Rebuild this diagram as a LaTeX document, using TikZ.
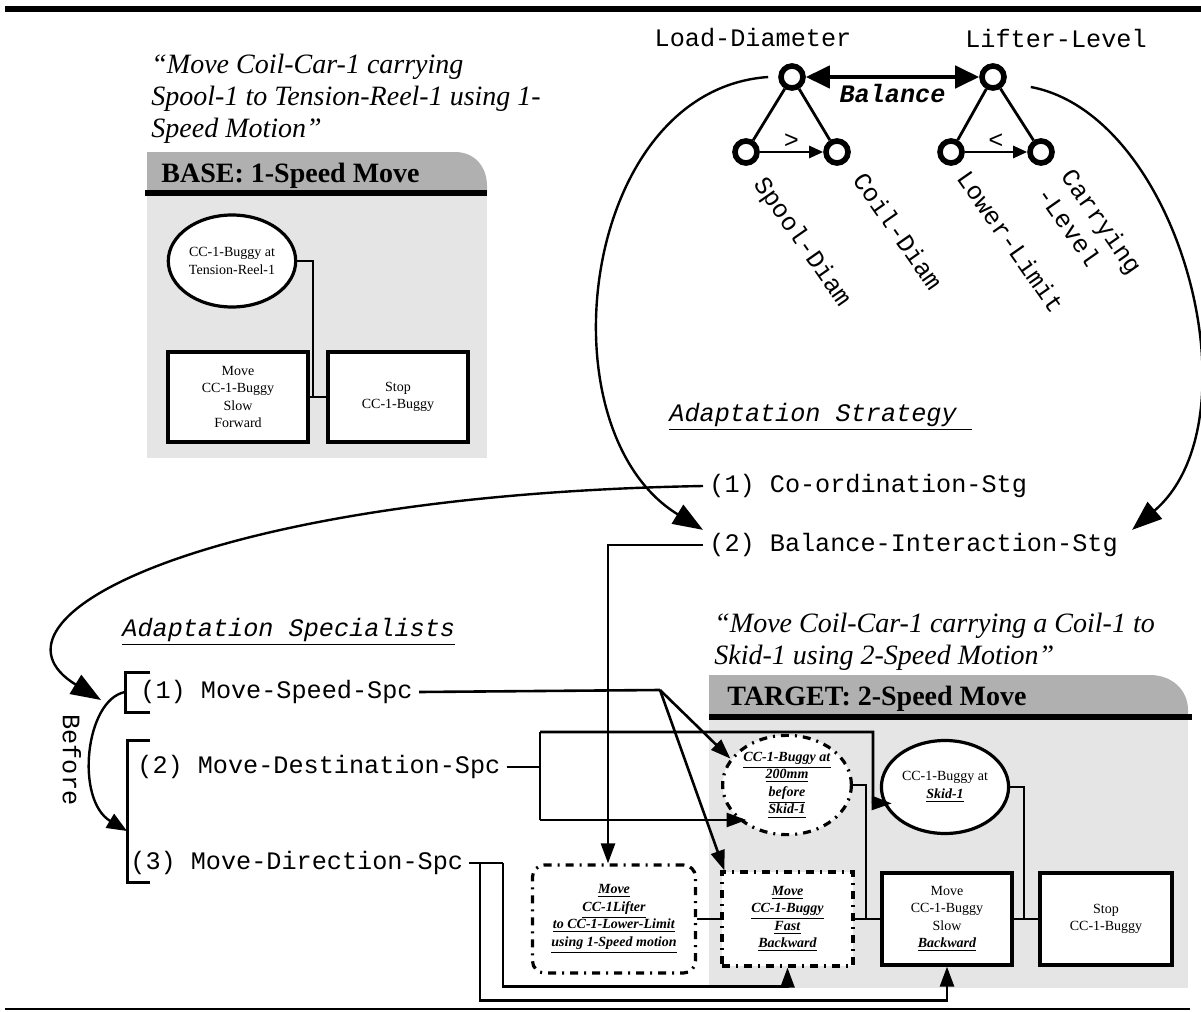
\documentclass[tikz,border=0pt]{standalone}
\usepackage{fontspec}
\setmainfont{Liberation Serif}
\setmonofont{Liberation Mono}
\usetikzlibrary{arrows.meta,shapes.geometric}
\definecolor{hdrgray}{RGB}{176,176,176}
\definecolor{bodygray}{RGB}{229,229,229}
\tikzset{
  conn/.style={line width=1.3pt},
  arr/.style={conn,-{Triangle[length=10pt,width=7pt]}},
  bigarr/.style={line width=1.2pt,-{Triangle[length=15pt,width=11pt]}},
  brk/.style={line width=1.5pt},
  rule/.style={line width=2.6pt},
  mono/.style={font=\ttfamily\fontsize{12.6}{15}\selectfont,inner xsep=3pt,inner ysep=1.5pt},
  itmono/.style={mono,font=\ttfamily\itshape\fontsize{12.6}{15}\selectfont},
  slant/.style={mono,rotate=-55,anchor=west,inner sep=0pt},
  quote/.style={font=\itshape\fontsize{14}{16}\selectfont,align=left,inner sep=0pt},
  hdr/.style={font=\bfseries\fontsize{14}{16}\selectfont,inner sep=0pt},
  knot/.style={circle,draw,line width=2.8pt,minimum size=11pt,inner sep=0pt},
  side/.style={line width=1.4pt},
  narr/.style={line width=1.3pt,-{Triangle[length=7pt,width=6pt]}},
  balarr/.style={line width=2.2pt,{Triangle[length=12pt,width=11pt]}-{Triangle[length=12pt,width=11pt]}},
  task/.style={draw,line width=1.6pt,fill=white,align=center,inner sep=1pt,font=\fontsize{7}{8.8}\selectfont},
  newtask/.style={task,dash pattern=on 4pt off 3pt on 1pt off 3pt},
  state/.style={task,ellipse},
  newstate/.style={state,dash pattern=on 4pt off 3pt on 1pt off 3pt}
}
\newcommand{\ubi}[1]{\underline{\textbf{\textit{#1}}}}

\begin{document}
\begin{tikzpicture}[x=0.5pt,y=-0.5pt]
\useasboundingbox (0,0) rectangle (1201,1012);
% page rules
\draw[line width=3pt] (5,9) -- (1201,9);
\draw[line width=1pt] (5,1009) -- (1190,1009);

% base case
\node[quote,anchor=north west] (basequote) at (151,54) {“Move Coil-Car-1 carrying\\Spool-1 to Tension-Reel-1 using 1-\\Speed Motion”};
\fill[bodygray] (147,193) rectangle (487,458);
\fill[hdrgray] (147,193) -- (147,152) -- (455,152) .. controls (474,152) and (487,166) .. (487,186) -- (487,193) -- cycle;
\draw[rule] (145,193) -- (487,193);
\node[hdr,anchor=west] (basehdr) at (161,176) {BASE: 1-Speed Move};
\node[state,minimum width=61.5pt,minimum height=46pt] (baseat) at (232,261) {CC-1-Buggy at\\Tension-Reel-1};
\node[task,minimum width=70pt,minimum height=45pt] (baseslow) at (238,397) {Move\\CC-1-Buggy\\Slow\\Forward};
\node[task,minimum width=70pt,minimum height=45pt] (basestop) at (398,397) {Stop\\CC-1-Buggy};
\coordinate (basej) at (313,397);
\draw[conn] (baseat.east) -| (basej);
\draw[conn] (baseslow.east) -- (basestop.west);

% balance of the two goals
\node[mono] (ldlab) at (753,38) {Load-Diameter};
\node[mono] (lllab) at (1056,38) {Lifter-Level};
\node[knot] (ld) at (792,77) {};
\node[knot] (ll) at (993,77) {};
\node[knot] (sd) at (746,152) {};
\node[knot] (cd) at (837,152) {};
\node[knot] (lo) at (951,152) {};
\node[knot] (cl) at (1041,152) {};
\draw[side] (ld) -- (sd); \draw[side] (ld) -- (cd);
\draw[side] (ll) -- (lo); \draw[side] (ll) -- (cl);
\draw[narr] (sd) -- node[mono,above,inner sep=1pt] {>} (cd);
\draw[narr] (lo) -- node[mono,above,inner sep=1pt] {<} (cl);
\draw[balarr] (ld) -- node[mono,below=1pt,font=\ttfamily\bfseries\itshape\fontsize{12.6}{15}\selectfont] {Balance} (ll);
\node[slant] (sdlab) at (758,180) {Spool-Diam};
\node[slant] (cdlab) at (859,175) {Coil-Diam};
\node[slant] (lolab) at (963,173) {Lower-Limit};
\node[slant,align=left] (cllab) at (1055,180) {Carrying\\-Level};

% adaptation strategy
\node[itmono,anchor=west] (stglab) at (663,417) {\underline{Adaptation Strategy\ }};
\node[mono,anchor=west] (stg1) at (703,486) {(1) Co-ordination-Stg};
\node[mono,anchor=west] (stg2) at (703,545) {(2) Balance-Interaction-Stg};
\draw[bigarr] ([xshift=-5pt]ld.west) .. controls (580,90) and (540,430) .. (stg2.north west);
\draw[bigarr] ([xshift=12pt,yshift=-5pt]ll.east) .. controls (1180,115) and (1260,420) .. ([xshift=4pt]stg2.north east);

% target case
\node[quote,anchor=north west] (targetquote) at (714,613) {“Move Coil-Car-1 carrying a Coil-1 to\\Skid-1 using 2-Speed Motion”};
\fill[bodygray] (709,717) rectangle (1188,988);
\fill[hdrgray] (709,717) -- (709,675) -- (1150,675) .. controls (1172,675) and (1188,690) .. (1188,710) -- (1188,717) -- cycle;
\draw[rule] (709,717) -- (1192,717);
\node[hdr,anchor=west] (targethdr) at (727,699) {TARGET: 2-Speed Move};
\node[newstate,minimum width=61.5pt,minimum height=47pt] (tnear) at (787,785) {\ubi{CC-1-Buggy at}\\\ubi{200mm}\\\ubi{before}\\\ubi{Skid-1}};
\node[state,minimum width=62pt,minimum height=46.5pt] (tskid) at (945,787) {CC-1-Buggy at\\\ubi{Skid-1}};
\node[newtask,rounded corners=6pt,minimum width=81.5pt,minimum height=54pt] (tlift) at (614,919) {\ubi{Move}\\\ubi{CC-1Lifter}\\\ubi{to CC-1-Lower-Limit}\\\ubi{using 1-Speed motion}};
\node[newtask,minimum width=65.5pt,minimum height=47pt] (tfast) at (787.5,919) {\ubi{Move}\\\ubi{CC-1-Buggy}\\\ubi{Fast}\\\ubi{Backward}};
\node[task,minimum width=65pt,minimum height=46pt] (tslow) at (947,919) {Move\\CC-1-Buggy\\Slow\\\ubi{Backward}};
\node[task,minimum width=66pt,minimum height=46pt] (tstop) at (1106,919) {Stop\\CC-1-Buggy};
\coordinate (tj1) at (866,919);
\coordinate (tj2) at (1024,919);
\draw[conn] (tnear.east) -| (tj1);
\draw[conn] (tskid.east) -| (tj2);
\draw[conn] (tlift.east) -- (tfast.west);
\draw[conn] (tfast.east) -- (tslow.west);
\draw[conn] (tslow.east) -- (tstop.west);

% adaptation specialists
\node[itmono,anchor=west] (spclab) at (116,632) {\underline{Adaptation Specialists}};
\node[mono,anchor=west] (spc1) at (134,692) {(1) Move-Speed-Spc};
\node[mono,anchor=west] (spc2) at (131,767) {(2) Move-Destination-Spc};
\node[mono,anchor=west] (spc3) at (124,863) {(3) Move-Direction-Spc};
\draw[brk] (150,672) -- (125,672) -- (125,712) -- (150,712);
\draw[brk] (150,740) -- (127,740) -- (127,882) -- (150,882);
\coordinate (br1) at (125,692);
\coordinate (br2) at (127,811);
\draw[bigarr] (stg1.west) .. controls (200,495) and (-30,620) .. ([xshift=-12pt,yshift=-4pt]br1);
\draw[line width=1.2pt,-{Triangle[length=10pt,width=8pt]}] (br1) .. controls (85,700) and (75,800) .. ([yshift=-10pt]br2);
\node[mono,rotate=-90] (beforelab) at (72,760) {Before};

% specialist links
\coordinate (sj) at (660,690);
\draw[conn] (spc1.east) -- (sj);
\draw[arr] (sj) -- (tnear.155);
\draw[arr] (sj) -- ([xshift=2pt]tfast.north west);
\coordinate (bj) at (608,545);
\draw[arr] (stg2.west) -- (bj) -- (bj |- tlift.north);
\coordinate (dj) at (540,767);
\coordinate (dtop) at (540,732);
\coordinate (dbot) at (540,820);
\coordinate (dk) at (873,803);
\draw[conn] (spc2.east) -- (dj);
\draw[conn] (dtop) -- (dbot);
\draw[arr] (dtop) -| (dk) -- ([xshift=4pt]tskid.195);
\draw[arr] (dbot) -- (dbot -| tnear.225);
\coordinate (r1) at (480,863);
\coordinate (r2) at (503,863);
\draw[conn] (spc3.east) -- (r2);
\draw[arr] (r2) |- ([yshift=-9.5pt]tfast.south) -- (tfast.south);
\draw[arr] (r1) |- ([yshift=-17pt]tslow.south) -- (tslow.south);
\end{tikzpicture}
\end{document}
